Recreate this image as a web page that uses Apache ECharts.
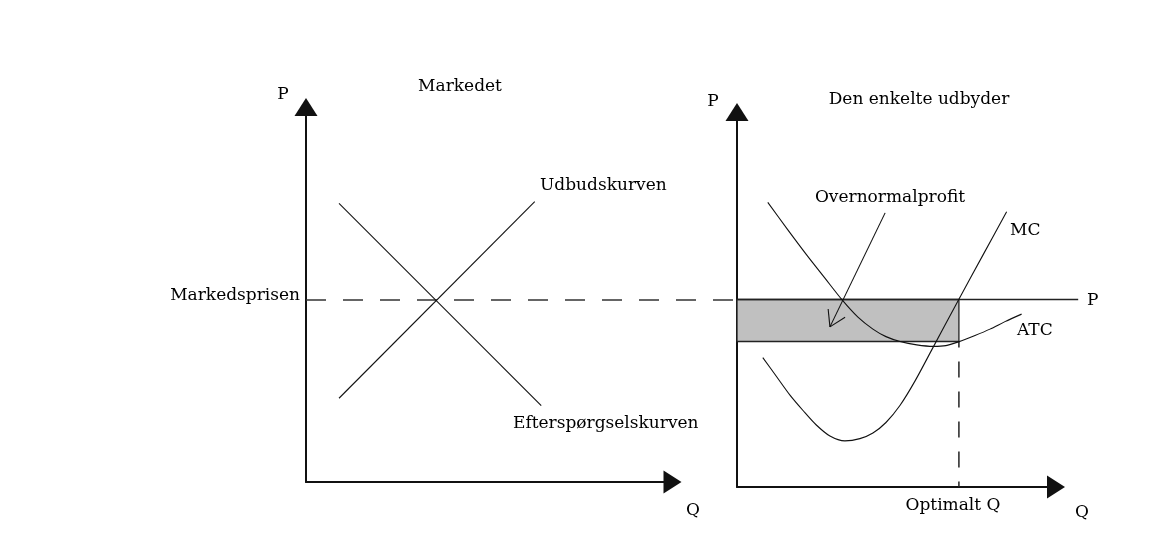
<!DOCTYPE html>
<html>
<head>
<meta charset="utf-8">
<script src="https://cdn.jsdelivr.net/npm/echarts@6/dist/echarts.min.js"></script>
<style>
html,body{margin:0;padding:0;background:#fff;}
#chart{width:1158px;height:538px;}
</style>
</head>
<body>
<div id="chart"></div>
<script>
// ---- Data ----
// Left panel: the market
const marketDemand = [[1.27, 7.65], [9.05, 2.1]];   // Efterspørgselskurven
const marketSupply = [[1.27, 2.3], [8.8, 7.7]];     // Udbudskurven
const marketPrice = 5;                               // Markedsprisen
const marketPriceEndQ = 16.5;                        // dashed line reaches the right panel

// Right panel: the single firm
const mcCurve = [[0.93, 3.45], [1.41, 2.96], [1.91, 2.45], [2.38, 2.04], [2.85, 1.66],
                 [3.35, 1.36], [3.89, 1.23], [4.43, 1.29], [4.90, 1.44], [5.37, 1.72],
                 [5.88, 2.18], [6.42, 2.83], [7.03, 3.67], [7.98, 4.98], [8.87, 6.19],
                 [9.72, 7.34]];
const atcCurve = [[1.11, 7.59], [1.80, 6.89], [2.51, 6.19], [3.17, 5.57], [3.79, 4.99],
                  [4.36, 4.53], [4.90, 4.21], [5.37, 4.01], [5.88, 3.88], [6.48, 3.79],
                  [7.08, 3.75], [7.53, 3.77], [7.98, 3.87], [8.58, 4.04], [9.12, 4.21],
                  [9.66, 4.41], [10.26, 4.61]];
const firmPriceEndQ = 12.3;
const optimalQ = 8;
const atcAtOptimal = 3.88;
const profitArrow = [5.34, 7.31, 3.35, 4.27];  // from (x1,y1) to (x2,y2)

// Axis ranges
const leftXMax = 14.1, leftYMax = 10.3;
const rightXMax = 11.5, rightYMax = 10;

// Text labels
const labels = {
  leftTitle: 'Markedet',
  rightTitle: 'Den enkelte udbyder',
  supply: 'Udbudskurven',
  demand: 'Efterspørgselskurven',
  price: 'Markedsprisen',
  profit: 'Overnormalprofit',
  mc: 'MC',
  atc: 'ATC',
  p: 'P',
  q: 'Q',
  optQ: 'Optimalt Q'
};

// ---- Chart ----
const FONT = '17px "DejaVu Serif"';
const LINE = '#111';
const AXIS = '#111';

function axisBase(max, idx) {
  return {
    type: 'value', min: 0, max: max, gridIndex: idx,
    axisLine: { show: true, onZero: false, symbol: ['none', 'triangle'], symbolSize: [23, 18],
                lineStyle: { color: AXIS, width: 2 } },
    axisTick: { show: false }, axisLabel: { show: false }, splitLine: { show: false }
  };
}

function txt(text, x, y, align) {
  return { type: 'text', x: x, y: y, silent: true,
    style: { text: text, font: FONT, fill: '#000', align: align || 'left', verticalAlign: 'middle' } };
}

// straight segment drawn through the axes, not clipped to the grid
function segmentSeries(gridIdx, seg, style, z) {
  return {
    type: 'custom', xAxisIndex: gridIdx, yAxisIndex: gridIdx, clip: false, silent: true, z: z,
    data: [seg],
    renderItem: function (params, api) {
      const p1 = api.coord([api.value(0), api.value(1)]);
      const p2 = api.coord([api.value(2), api.value(3)]);
      return { type: 'line', shape: { x1: p1[0], y1: p1[1], x2: p2[0], y2: p2[1] },
               style: Object.assign({ fill: null }, style) };
    }
  };
}

const chart = echarts.init(document.getElementById('chart'), null, { renderer: 'canvas' });
chart.setOption({
  animation: false,
  backgroundColor: '#fff',
  grid: [
    { left: 306, top: 107, width: 366.5, height: 375 },
    { left: 737, top: 112, width: 319, height: 375 }
  ],
  xAxis: [axisBase(leftXMax, 0), axisBase(rightXMax, 1)],
  yAxis: [axisBase(leftYMax, 0), axisBase(rightYMax, 1)],
  series: [
    { type: 'line', xAxisIndex: 0, yAxisIndex: 0, data: marketDemand, symbol: 'none',
      lineStyle: { color: LINE, width: 1.1 } },
    { type: 'line', xAxisIndex: 0, yAxisIndex: 0, data: marketSupply, symbol: 'none',
      lineStyle: { color: LINE, width: 1.1 } },
    segmentSeries(0, [0, marketPrice, marketPriceEndQ, marketPrice],
      { stroke: '#333', lineWidth: 1.6, lineDash: [20, 17] }, 2),
    { type: 'line', xAxisIndex: 1, yAxisIndex: 1, symbol: 'none', z: 1,
      data: [[optimalQ, atcAtOptimal], [optimalQ, 0]],
      lineStyle: { color: '#222', width: 1.5, type: [16, 14], dashOffset: 10 },
      markArea: { silent: true, label: { show: false },
        itemStyle: { color: '#c0c0c0', opacity: 1, borderColor: '#222', borderWidth: 1.3 },
        data: [[{ coord: [0, atcAtOptimal] }, { coord: [optimalQ, marketPrice] }]] } },
    segmentSeries(1, [0, marketPrice, firmPriceEndQ, marketPrice],
      { stroke: '#222', lineWidth: 1.3 }, 2),
    { type: 'line', xAxisIndex: 1, yAxisIndex: 1, data: atcCurve, symbol: 'none', smooth: 0.3, z: 3,
      lineStyle: { color: LINE, width: 1.1 } },
    { type: 'line', xAxisIndex: 1, yAxisIndex: 1, data: mcCurve, symbol: 'none', smooth: 0.3, z: 3,
      lineStyle: { color: LINE, width: 1.1 } },
    { type: 'custom', xAxisIndex: 1, yAxisIndex: 1, z: 4, silent: true, clip: false,
      data: [profitArrow],
      renderItem: function (params, api) {
        const p1 = api.coord([api.value(0), api.value(1)]);
        const p2 = api.coord([api.value(2), api.value(3)]);
        const ang = Math.atan2(p1[1] - p2[1], p1[0] - p2[0]);
        const L = 18, spread = 0.55;
        const a1 = [p2[0] + L * Math.cos(ang - spread), p2[1] + L * Math.sin(ang - spread)];
        const a2 = [p2[0] + L * Math.cos(ang + spread), p2[1] + L * Math.sin(ang + spread)];
        const st = { stroke: LINE, lineWidth: 1.1, fill: null };
        return { type: 'group', children: [
          { type: 'line', shape: { x1: p1[0], y1: p1[1], x2: p2[0], y2: p2[1] }, style: st },
          { type: 'line', shape: { x1: p2[0], y1: p2[1], x2: a1[0], y2: a1[1] }, style: st },
          { type: 'line', shape: { x1: p2[0], y1: p2[1], x2: a2[0], y2: a2[1] }, style: st }
        ]};
      } }
  ],
  graphic: [
    txt(labels.p, 283, 95, 'center'),
    txt(labels.leftTitle, 460, 87, 'center'),
    txt(labels.supply, 540, 186),
    txt(labels.demand, 513, 424),
    txt(labels.price, 300, 296, 'right'),
    txt(labels.q, 693, 511, 'center'),
    txt(labels.p, 713, 102, 'center'),
    txt(labels.rightTitle, 919, 100, 'center'),
    txt(labels.profit, 890, 198, 'center'),
    txt(labels.mc, 1010, 231),
    txt(labels.atc, 1017, 331),
    txt(labels.p, 1087, 301),
    txt(labels.optQ, 953, 506, 'center'),
    txt(labels.q, 1082, 513, 'center')
  ]
});
</script>
</body>
</html>
